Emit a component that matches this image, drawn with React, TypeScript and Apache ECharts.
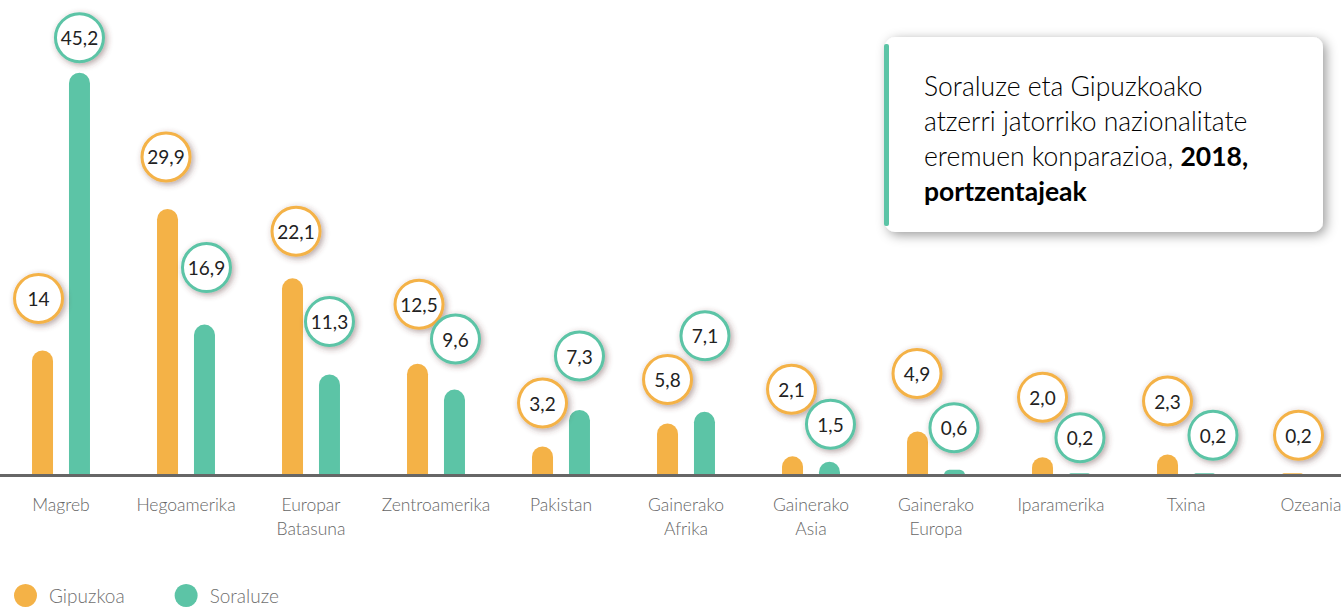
import React, { useEffect, useRef } from "react";
import * as echarts from "echarts";

const categories = [
  "Magreb",
  "Hegoamerika",
  "Europar\nBatasuna",
  "Zentroamerika",
  "Pakistan",
  "Gainerako\nAfrika",
  "Gainerako\nAsia",
  "Gainerako\nEuropa",
  "Iparamerika",
  "Txina",
  "Ozeania",
];

const gipuzkoa = [14, 29.9, 22.1, 12.5, 3.2, 5.8, 2.1, 4.9, 2.0, 2.3, 0.2];
const soraluze: (number | null)[] = [45.2, 16.9, 11.3, 9.6, 7.3, 7.1, 1.5, 0.6, 0.2, 0.2, null];

// label bubble layout (pixels from bar top to bubble centre, horizontal shift)
const gipuzkoaLabelLift = [52, 52, 47, 59.5, 43.5, 44, 67, 58, 60, 53.5, 38];
const gipuzkoaLabelShift = [-4, -1.5, 3.5, 1.5, 0, 0, -1, -0.5, 0, 0, 6];
const soraluzeLabelLift = [35, 57, 53, 50.5, 54, 76, 37.5, 42, 35.5, 38, 0];
const soraluzeLabelShift = [0, 2, 0, 1, 0, 0.5, 1, -0.5, 0.5, 8.5, 0];

const ORANGE = "#F4B247";
const TEAL = "#5CC4A6";
const FONT = "Lato, 'Open Sans', sans-serif";
const BUBBLE = 45;

function fmt(v: number): string {
  if (v >= 10 && Number.isInteger(v)) return String(v);
  return v.toFixed(1).replace(".", ",");
}

function bubbleLabel(color: string) {
  return {
    show: true,
    position: "top",
    distance: 0,
    formatter: (p: any) => fmt(p.value),
    color: "#222",
    fontSize: 19,
    fontFamily: FONT,
    backgroundColor: "#fff",
    borderColor: color,
    borderWidth: 3,
    borderRadius: 26,
    width: BUBBLE,
    height: BUBBLE,
    lineHeight: BUBBLE,
    align: "center",
    verticalAlign: "middle",
    shadowColor: "rgba(90,50,50,0.45)",
    shadowBlur: 6,
    shadowOffsetX: 2,
    shadowOffsetY: 2,
  };
}

function bubbleLayout(lift: number[], shift: number[]) {
  return (p: any) => {
    const r = p.rect;
    return {
      x: r.x + r.width / 2 + (shift[p.dataIndex] || 0),
      y: r.y - (lift[p.dataIndex] || 0),
      align: "center",
      verticalAlign: "middle",
    };
  };
}

export default function App() {
  const ref = useRef<HTMLDivElement>(null);

  useEffect(() => {
    if (!ref.current) return;
    const chart = echarts.init(ref.current, undefined, { renderer: "svg" });
    const barStyle = (c: string) => ({ color: c, borderRadius: [10.5, 10.5, 0, 0] });
    chart.setOption({
      animation: false,
      backgroundColor: "#fff",
      grid: {
        left: -1.5,
        width: 1375,
        top: 30,
        bottom: 134,
        containLabel: false,
        outerBoundsMode: "none",
      },
      legend: {
        left: 9,
        top: 579,
        icon: "circle",
        itemWidth: 23,
        itemHeight: 23,
        itemGap: 50,
        textStyle: {
          fontSize: 19,
          color: "#6f6f6f",
          fontFamily: FONT,
          fontWeight: 300,
          padding: [0, 0, 0, 7],
        },
        data: ["Gipuzkoa", "Soraluze"],
      },
      xAxis: {
        type: "category",
        data: categories,
        z: 3,
        axisLine: { show: true, lineStyle: { color: "#666", width: 3 } },
        axisTick: { show: false },
        axisLabel: {
          interval: 0,
          margin: 17,
          color: "#666",
          fontSize: 17.5,
          lineHeight: 24,
          fontFamily: FONT,
          fontWeight: 300,
        },
      },
      yAxis: {
        type: "value",
        min: 0,
        max: 50,
        show: false,
        splitLine: { show: false },
      },
      series: [
        {
          name: "Gipuzkoa",
          type: "bar",
          barWidth: 21,
          barGap: "76%",
          itemStyle: barStyle(ORANGE),
          label: bubbleLabel(ORANGE),
          labelLayout: bubbleLayout(gipuzkoaLabelLift, gipuzkoaLabelShift),
          data: gipuzkoa,
        },
        {
          name: "Soraluze",
          type: "bar",
          barWidth: 21,
          barGap: "76%",
          itemStyle: barStyle(TEAL),
          label: bubbleLabel(TEAL),
          labelLayout: bubbleLayout(soraluzeLabelLift, soraluzeLabelShift),
          data: soraluze.map((v) => (v == null ? "-" : v)),
        },
      ],
      graphic: [
        {
          type: "group",
          left: 884,
          top: 37,
          children: [
            {
              type: "rect",
              shape: { x: 0, y: 0, width: 438, height: 195, r: 10 },
              style: {
                fill: "#fff",
                shadowBlur: 12,
                shadowColor: "rgba(0,0,0,0.4)",
                shadowOffsetX: 3,
                shadowOffsetY: 3,
              },
            },
            {
              type: "rect",
              shape: { x: -1, y: 7, width: 5, height: 182, r: 2 },
              style: { fill: TEAL },
            },
            {
              type: "text",
              x: 39,
              y: 31,
              style: {
                text:
                  "{n|Soraluze eta Gipuzkoako}\n{n|atzerri jatorriko nazionalitate}\n{n|eremuen konparazioa, }{b|2018,}\n{b|portzentajeak}",
                verticalAlign: "top",
                align: "left",
                rich: {
                  n: {
                    fontSize: 26.5,
                    lineHeight: 35,
                    fontFamily: FONT,
                    fontWeight: 300,
                    color: "#333",
                  },
                  b: {
                    fontSize: 26.5,
                    lineHeight: 35,
                    fontFamily: FONT,
                    fontWeight: "bold",
                    color: "#1a1a1a",
                  },
                },
              },
            },
          ],
        },
      ],
    });
    return () => chart.dispose();
  }, []);

  return (
    <div
      ref={ref}
      style={{ position: "fixed", left: 0, top: 0, width: 1341, height: 609 }}
    />
  );
}
